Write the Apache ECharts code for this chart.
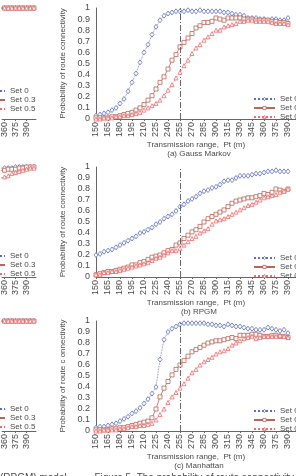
<!DOCTYPE html>
<html>
<head>
<meta charset="utf-8">
<script src="https://cdn.jsdelivr.net/npm/echarts@6/dist/echarts.min.js"></script>
<style>
  html, body { margin: 0; padding: 0; background: #fff; }
  #chart { width: 296px; height: 476px; }
</style>
</head>
<body>
<div id="chart"></div>
<script>
// transmission range (m), one point every 5 m
const rangeX = [150, 155, 160, 165, 170, 175, 180, 185, 190, 195, 200, 205, 210, 215, 220, 225, 230,
  235, 240, 245, 250, 255, 260, 265, 270, 275, 280, 285, 290, 295, 300, 305, 310, 315, 320, 325, 330,
  335, 340, 345, 350, 355, 360, 365, 370, 375, 380, 385, 390];
const tickLabels = [150, 165, 180, 195, 210, 225, 240, 255, 270, 285, 300, 315, 330, 345, 360, 375, 390];
const sideTickLabels = [360, 375, 390];
const setNames = ["Set 0", "Set 0.3", "Set 0.5"];
const cutRange = 255;

// (a) Gauss Markov
const gaussSet0 = [0.03, 0.04, 0.05, 0.06, 0.08, 0.10, 0.14, 0.18, 0.25, 0.33, 0.41, 0.51, 0.60, 0.67, 0.76, 0.83, 0.89,
  0.93, 0.95, 0.96, 0.97, 0.97, 0.97, 0.98, 0.97, 0.97, 0.98, 0.97, 0.97, 0.97, 0.97, 0.97, 0.96, 0.96, 0.95, 0.94, 0.94,
  0.93, 0.91, 0.91, 0.91, 0.90, 0.90, 0.89, 0.90, 0.90, 0.89, 0.89, 0.91];
const gaussSet03 = [0.01, 0.01, 0.01, 0.01, 0.02, 0.02, 0.03, 0.04, 0.05, 0.06, 0.08, 0.10, 0.13, 0.17, 0.21, 0.27, 0.33,
  0.38, 0.45, 0.53, 0.58, 0.65, 0.69, 0.73, 0.77, 0.82, 0.84, 0.87, 0.87, 0.88, 0.91, 0.90, 0.89, 0.91, 0.91, 0.91, 0.91,
  0.90, 0.90, 0.90, 0.89, 0.89, 0.89, 0.89, 0.88, 0.88, 0.87, 0.87, 0.86];
const gaussSet05 = [0.00, 0.00, 0.01, 0.01, 0.01, 0.02, 0.02, 0.03, 0.03, 0.04, 0.05, 0.06, 0.08, 0.10, 0.12, 0.14, 0.17,
  0.21, 0.26, 0.31, 0.37, 0.42, 0.48, 0.53, 0.59, 0.64, 0.67, 0.71, 0.74, 0.77, 0.80, 0.80, 0.83, 0.84, 0.85, 0.86, 0.88,
  0.88, 0.89, 0.89, 0.88, 0.88, 0.88, 0.88, 0.87, 0.86, 0.86, 0.86, 0.85];

// (b) RPGM
const rpgmSet0 = [0.20, 0.21, 0.23, 0.24, 0.25, 0.27, 0.29, 0.31, 0.33, 0.35, 0.37, 0.40, 0.41, 0.43, 0.45, 0.48, 0.50,
  0.53, 0.55, 0.57, 0.60, 0.64, 0.66, 0.69, 0.71, 0.73, 0.76, 0.78, 0.79, 0.81, 0.82, 0.84, 0.87, 0.88, 0.88, 0.90, 0.92,
  0.92, 0.92, 0.93, 0.94, 0.94, 0.95, 0.96, 0.96, 0.97, 0.96, 0.96, 0.96];
const rpgmSet03 = [0.02, 0.03, 0.04, 0.05, 0.05, 0.06, 0.07, 0.08, 0.09, 0.11, 0.11, 0.13, 0.14, 0.16, 0.18, 0.19, 0.20,
  0.22, 0.24, 0.25, 0.29, 0.31, 0.35, 0.38, 0.41, 0.43, 0.46, 0.50, 0.53, 0.55, 0.57, 0.59, 0.61, 0.64, 0.67, 0.69, 0.70,
  0.71, 0.72, 0.72, 0.73, 0.74, 0.76, 0.75, 0.77, 0.80, 0.79, 0.78, 0.80];
const rpgmSet05 = [0.02, 0.02, 0.04, 0.04, 0.05, 0.05, 0.06, 0.07, 0.08, 0.09, 0.10, 0.11, 0.12, 0.13, 0.15, 0.17, 0.18,
  0.20, 0.22, 0.24, 0.24, 0.26, 0.29, 0.32, 0.35, 0.37, 0.40, 0.42, 0.44, 0.48, 0.51, 0.52, 0.53, 0.55, 0.57, 0.59, 0.61,
  0.63, 0.65, 0.66, 0.68, 0.70, 0.72, 0.73, 0.74, 0.75, 0.77, 0.78, 0.80];

// (c) Manhattan
const manhSet0 = [0.03, 0.04, 0.04, 0.05, 0.06, 0.07, 0.09, 0.11, 0.13, 0.16, 0.18, 0.21, 0.25, 0.29, 0.34, 0.40, 0.65,
  0.83, 0.90, 0.93, 0.95, 0.97, 0.98, 0.98, 0.98, 0.98, 0.98, 0.98, 0.97, 0.97, 0.96, 0.96, 0.95, 0.97, 0.96, 0.95, 0.95,
  0.94, 0.93, 0.93, 0.92, 0.92, 0.92, 0.94, 0.93, 0.92, 0.91, 0.92, 0.89];
const manhSet03 = [0.01, 0.01, 0.01, 0.01, 0.02, 0.02, 0.03, 0.03, 0.04, 0.05, 0.06, 0.07, 0.08, 0.09, 0.12, 0.20, 0.31,
  0.39, 0.45, 0.51, 0.56, 0.60, 0.64, 0.68, 0.72, 0.74, 0.76, 0.78, 0.80, 0.81, 0.82, 0.82, 0.83, 0.84, 0.85, 0.84, 0.87,
  0.87, 0.87, 0.88, 0.88, 0.87, 0.86, 0.86, 0.87, 0.87, 0.86, 0.86, 0.85];
const manhSet05 = [0.00, 0.00, 0.01, 0.01, 0.01, 0.01, 0.02, 0.02, 0.03, 0.04, 0.04, 0.05, 0.05, 0.06, 0.07, 0.10, 0.15,
  0.20, 0.26, 0.31, 0.35, 0.39, 0.43, 0.48, 0.53, 0.56, 0.60, 0.63, 0.65, 0.67, 0.70, 0.72, 0.73, 0.75, 0.78, 0.80, 0.82,
  0.84, 0.85, 0.86, 0.84, 0.85, 0.86, 0.86, 0.86, 0.86, 0.87, 0.86, 0.85];

// right end of the neighbouring figure (cropped on the left)
const sideX = [355, 360, 365, 370, 375, 380, 385, 390, 395, 400];
const sideTopSet0 = [1.00, 1.00, 1.00, 1.00, 1.00, 1.00, 1.00, 1.00, 1.00, 1.00];
const sideTopSet03 = [1.00, 1.00, 1.00, 1.00, 1.00, 1.00, 1.00, 1.00, 1.00, 1.00];
const sideTopSet05 = [1.00, 1.00, 1.00, 1.00, 1.00, 1.00, 1.00, 1.00, 1.00, 1.00];
const sideMidSet0 = [0.99, 0.99, 0.99, 0.99, 1.00, 1.00, 1.00, 1.00, 1.00, 1.00];
const sideMidSet03 = [0.97, 0.97, 0.98, 0.98, 0.98, 0.99, 0.99, 1.00, 1.00, 1.00];
const sideMidSet05 = [0.90, 0.91, 0.92, 0.94, 0.95, 0.96, 0.97, 0.98, 0.99, 0.99];
const sideLowSet0 = [1.00, 1.00, 1.00, 1.00, 1.00, 1.00, 1.00, 1.00, 1.00, 1.00];
const sideLowSet03 = [1.00, 1.00, 1.00, 1.00, 1.00, 1.00, 1.00, 1.00, 1.00, 1.00];
const sideLowSet05 = [1.00, 1.00, 1.00, 1.00, 1.00, 1.00, 1.00, 1.00, 1.00, 1.00];

const FONT = "Liberation Sans";
const TXT = "#4a4a4a";
const AXIS = "#666";

// hollow markers: white fill, coloured border
const setStyle = [
  { color: "#5b6cc2", symbol: "diamond", size: [4, 5], line: "dotted" },
  { color: "#bb6457", symbol: "rect", size: 4, line: "solid" },
  { color: "#f06b6b", symbol: "triangle", size: 4, line: [2, 2] },
];

const tops = [8, 167, 321];
const heights = [111, 110, 110];
const yNames = ["Probability of route connectivity", "Probability of route connectivity", "Probability of route c onnectivity"];
const subTitles = ["(a) Gauss Markov", "(b) RPGM", "(c) Manhattan"];
const mainData = [
  [gaussSet0, gaussSet03, gaussSet05],
  [rpgmSet0, rpgmSet03, rpgmSet05],
  [manhSet0, manhSet03, manhSet05],
];
const sideData = [
  [sideTopSet0, sideTopSet03, sideTopSet05],
  [sideMidSet0, sideMidSet03, sideMidSet05],
  [sideLowSet0, sideLowSet03, sideLowSet05],
];
const mainLegendTop = [95, 254, 407];
const sideLegendTop = [87, 252, 405];

const chart = echarts.init(document.getElementById("chart"));

const grid = [], xAxis = [], yAxis = [], series = [], legend = [], graphic = [];

function addPanel(idx, main, xs, sets, legendLeft, legendTop) {
  const g = grid.length;
  const left = main ? 96 : 0;
  const width = main ? 205 : 36;
  grid.push({ left: left, top: tops[idx], width: width, height: heights[idx] });
  const labels = main ? tickLabels : sideTickLabels;
  xAxis.push({
    type: "value", gridIndex: g,
    min: main ? 150 : 356.7, max: main ? 400 : 402.8,
    name: main ? "Transmission range,  Pt (m)" : "",
    nameLocation: "middle", nameGap: 20,
    nameTextStyle: { fontFamily: FONT, fontSize: 8, color: TXT },
    axisLine: { lineStyle: { color: AXIS, width: 1 } },
    axisTick: { show: true, length: 2, customValues: labels, lineStyle: { color: AXIS } },
    axisLabel: {
      rotate: 90, fontFamily: FONT, fontSize: 9, color: TXT, margin: 3,
      customValues: labels,
    },
    splitLine: { show: false },
  });
  yAxis.push({
    type: "value", gridIndex: g, min: 0, max: 1, interval: 0.1, show: main,
    name: main ? yNames[idx] : "",
    nameLocation: "middle", nameGap: 21,
    nameTextStyle: { fontFamily: FONT, fontSize: 8, color: TXT },
    axisLine: { show: true, lineStyle: { color: AXIS, width: 1 } },
    axisTick: { show: false },
    axisLabel: { fontFamily: FONT, fontSize: 9, color: TXT, margin: 6 },
    splitLine: { show: false },
  });
  sets.forEach((vals, k) => {
    const st = setStyle[k];
    const s = {
      name: setNames[k], type: "line", xAxisIndex: g, yAxisIndex: g,
      data: xs.map((x, i) => [x, vals[i]]),
      symbol: st.symbol, symbolSize: st.size, showSymbol: true,
      itemStyle: { color: "#fff", borderColor: st.color, borderWidth: 0.8 },
      lineStyle: { color: st.color, width: 0.8, type: st.line },
      z: 3 + k,
    };
    if (main && k === 0) {
      s.markLine = {
        silent: true, symbol: "none", label: { show: false },
        lineStyle: { color: "#555", width: 0.9, type: [6, 2, 1, 2] },
        data: [{ xAxis: cutRange }],
      };
    }
    series.push(s);
  });
  legend.push({
    left: legendLeft, top: legendTop, orient: "vertical",
    data: setNames, itemWidth: 21, itemHeight: 4, itemGap: 1,
    selectedMode: false,
    itemStyle: { color: "#fff", borderColor: "inherit", borderWidth: 0.8 },
    textStyle: { fontFamily: FONT, fontSize: 8, color: TXT, lineHeight: 7 },
    padding: 0,
  });
  if (main) {
    graphic.push({
      type: "text", x: left + 103, y: tops[idx] + heights[idx] + 35,
      style: { text: subTitles[idx], fontFamily: FONT, fontSize: 8, fill: TXT, align: "center", verticalAlign: "middle" },
    });
  }
}

for (let p = 0; p < 3; p++) {
  addPanel(p, true, rangeX, mainData[p], 253, mainLegendTop[p]);
  addPanel(p, false, sideX, sideData[p], -17, sideLegendTop[p]);
}

// caption of the page, cut by the bottom edge
graphic.push({
  type: "text", x: 0, y: 478,
  style: { text: "(RPGM) model.         Figure 5. The probability of route connectivity in VANETs", fontFamily: FONT, fontSize: 10, fill: TXT, verticalAlign: "middle" },
});

chart.setOption({
  animation: false,
  backgroundColor: "#fff",
  grid, xAxis, yAxis, series, legend, graphic,
});
</script>
</body>
</html>
